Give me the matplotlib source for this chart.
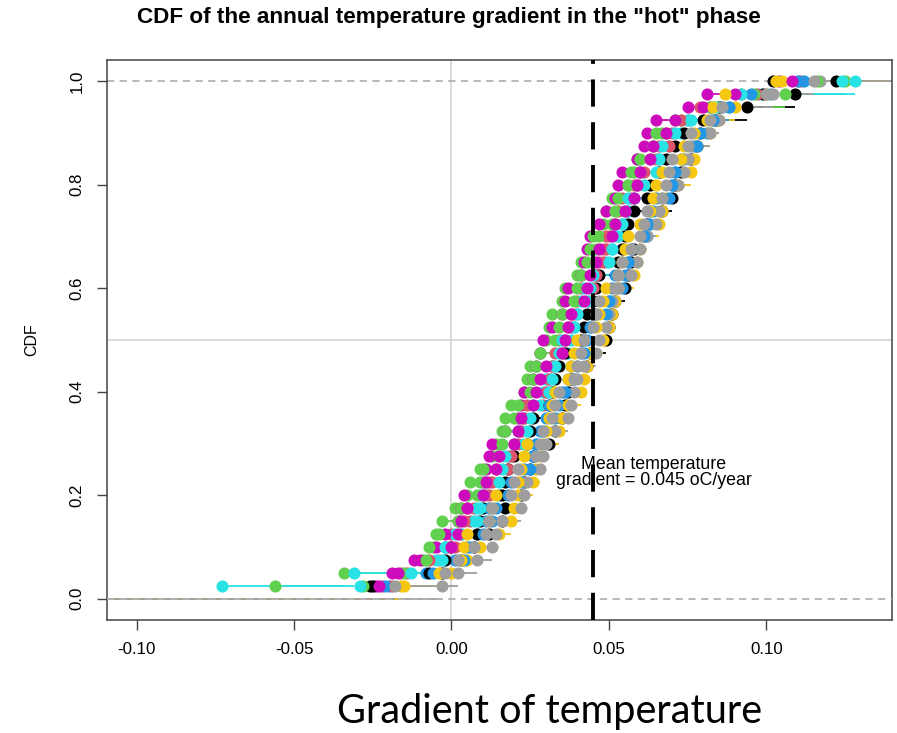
import numpy as np
import matplotlib
matplotlib.use("Agg")
import matplotlib.pyplot as plt

# Annual temperature gradients per simulation run, in units of 0.001 oC/year
runs_milli = [
    [-26, -3, 3, 7, 12, 16, 17, 22, 23, 25, 26, 31, 33, 35, 36, 37, 38, 43, 44, 49,
     50, 51, 52, 55, 56, 57, 58, 61, 62, 67, 70, 71, 73, 76, 78, 79, 84, 94, 109, 122],
    [-22, -16, -4, -1, 0, 6, 7, 12, 13, 14, 18, 21, 22, 23, 29, 30, 31, 32, 33, 34,
     38, 39, 40, 41, 46, 47, 48, 49, 54, 56, 57, 58, 61, 65, 66, 68, 75, 79, 92, 111],
    [-56, -34, -9, -6, -5, -3, 1, 5, 6, 9, 13, 14, 16, 17, 19, 23, 24, 25, 28, 30,
     31, 32, 35, 36, 40, 41, 46, 47, 48, 49, 51, 56, 58, 59, 64, 67, 73, 85, 106, 125],
    [-20, -8, 1, 6, 8, 13, 14, 15, 22, 23, 26, 27, 28, 33, 34, 35, 39, 40, 41, 42,
     44, 46, 50, 54, 55, 56, 57, 62, 63, 64, 65, 70, 71, 74, 77, 81, 83, 86, 101, 112],
    [-73, -31, -5, -2, 1, 7, 8, 9, 11, 18, 19, 20, 21, 23, 28, 29, 30, 32, 37, 38,
     39, 40, 41, 42, 46, 49, 51, 52, 55, 56, 58, 59, 60, 66, 69, 73, 75, 83, 98, 128],
    [-24, -19, -10, -5, -2, 2, 3, 4, 10, 11, 12, 13, 17, 21, 22, 23, 26, 27, 28, 29,
     32, 35, 36, 37, 41, 42, 43, 44, 47, 49, 52, 53, 54, 59, 61, 62, 65, 75, 81, 104],
    [-16, 0, 5, 9, 15, 19, 20, 21, 26, 27, 28, 29, 34, 35, 37, 41, 42, 43, 44, 48,
     50, 51, 52, 53, 58, 59, 60, 61, 66, 67, 68, 72, 76, 77, 78, 82, 85, 90, 100, 105],
    [-3, 2, 8, 13, 14, 16, 22, 23, 24, 28, 29, 30, 33, 37, 38, 39, 40, 42, 46, 47,
     49, 50, 51, 53, 57, 59, 60, 62, 65, 66, 67, 72, 74, 75, 76, 82, 85, 88, 102, 117],
    [-25, -7, -2, 0, 8, 9, 10, 16, 17, 18, 20, 24, 25, 26, 31, 32, 33, 34, 36, 41,
     42, 43, 45, 46, 47, 53, 54, 55, 56, 58, 62, 63, 66, 68, 71, 74, 80, 85, 99, 102],
    [-19, -14, -7, 1, 3, 4, 5, 11, 12, 18, 19, 20, 22, 23, 24, 30, 31, 32, 35, 36,
     37, 38, 44, 45, 46, 48, 49, 50, 52, 53, 54, 59, 60, 63, 69, 70, 73, 82, 97, 110],
    [-28, -15, -8, -7, -4, 2, 3, 8, 9, 10, 15, 16, 17, 20, 21, 25, 26, 27, 28, 33,
     34, 35, 39, 40, 41, 43, 44, 45, 51, 52, 53, 56, 57, 60, 64, 65, 71, 82, 96, 116],
    [-21, -6, 4, 5, 10, 11, 12, 18, 19, 25, 26, 27, 29, 30, 31, 36, 37, 38, 42, 43,
     44, 49, 50, 51, 52, 56, 57, 61, 62, 63, 69, 70, 71, 73, 78, 79, 83, 88, 95, 110],
    [-29, -13, -3, -2, 3, 8, 9, 10, 15, 16, 17, 23, 24, 25, 26, 31, 32, 33, 34, 35,
     39, 40, 43, 44, 45, 50, 51, 53, 54, 55, 56, 61, 65, 66, 67, 71, 76, 84, 92, 124],
    [-23, -17, -12, 0, 2, 3, 5, 10, 11, 14, 15, 20, 21, 22, 26, 27, 28, 30, 35, 36,
     37, 38, 42, 43, 44, 46, 47, 51, 52, 55, 58, 59, 60, 63, 64, 68, 71, 80, 90, 108],
    [-15, -4, 3, 4, 5, 12, 13, 14, 21, 22, 23, 24, 30, 31, 32, 33, 37, 38, 39, 40,
     46, 47, 48, 49, 53, 54, 55, 56, 60, 63, 64, 65, 67, 73, 74, 77, 81, 83, 87, 103],
    [-18, -2, 2, 7, 11, 12, 13, 19, 20, 21, 27, 28, 29, 32, 33, 34, 39, 40, 41, 42,
     45, 46, 47, 52, 53, 54, 57, 60, 61, 62, 67, 68, 69, 70, 75, 76, 82, 86, 100, 115],
]

# R default palette, recycled over the runs
palette = ["black", "#DF536B", "#61D04F", "#2297E6", "#28E2E5", "#CD0BBC", "#F5C710", "#9E9E9E"]

mean_gradient = 0.045
x_ticks = [-0.10, -0.05, 0.00, 0.05, 0.10]
y_ticks = [0.0, 0.2, 0.4, 0.6, 0.8, 1.0]

plt.rcParams["font.family"] = ["Liberation Sans", "DejaVu Sans"]

fig = plt.figure(figsize=(8.97, 7.33), dpi=100)
ax = fig.add_axes([107 / 897, 1 - 620 / 733, 785 / 897, 560 / 733])

xmin, xmax = -0.1094, 0.1399
ax.set_xlim(xmin, xmax)
ax.set_ylim(-0.041, 1.041)

# reference lines
ax.axvline(0.0, color="#d4d4d4", lw=1.2, zorder=1)
ax.axhline(0.5, color="#d4d4d4", lw=1.2, zorder=1)

# empirical CDF step functions (horizontal steps with closed points)
for i, vals in enumerate(runs_milli):
    x = np.sort(np.asarray(vals, dtype=float) / 1000.0)
    n = len(x)
    y = np.arange(1, n + 1) / n
    col = palette[i % len(palette)]
    starts = np.concatenate(([xmin], x))
    ends = np.concatenate((x, [xmax]))
    levels = np.concatenate(([0.0], y))
    ax.hlines(levels, starts, ends, colors=col, lw=1.3, zorder=2)
    ax.plot(x, y, "o", color=col, ms=8.7, mec="none", zorder=3)

ax.axhline(0.0, color="#b3b3b3", lw=1.3, ls=(0, (4, 3)), zorder=4)
ax.axhline(1.0, color="#b3b3b3", lw=1.3, ls=(0, (4, 3)), zorder=1.5)
ax.axvline(mean_gradient, color="black", lw=2.8, ls=(0, (7, 4)), zorder=5)

ax.text(0.0643, 0.244, "Mean temperature\ngradient = 0.045 oC/year",
        ha="center", va="center", fontsize=12.8, linespacing=0.85, zorder=6)

ax.set_xticks(x_ticks)
ax.set_xticklabels([f"{v:.2f}" for v in x_ticks], fontsize=12.2)
ax.set_yticks(y_ticks)
ax.set_yticklabels([f"{v:.1f}" for v in y_ticks], fontsize=12.2, rotation=90, va="center")
ax.tick_params(direction="out", length=7, width=1, color="#444444", pad=9)
for sp in ax.spines.values():
    sp.set_color("#444444")
    sp.set_linewidth(1.1)

ax.set_ylabel("CDF", fontsize=11.5, labelpad=22)
fig.text(0.5, 1 - 18 / 733, 'CDF of the annual temperature gradient in the "hot" phase',
         ha="center", va="center", fontsize=16.2, fontweight="bold")
fig.text(550 / 897, 1 - 712 / 733, "Gradient of temperature",
         ha="center", va="center", fontsize=28.5, family=["Lato", "DejaVu Sans"])

fig.savefig("out.png", dpi=100)
